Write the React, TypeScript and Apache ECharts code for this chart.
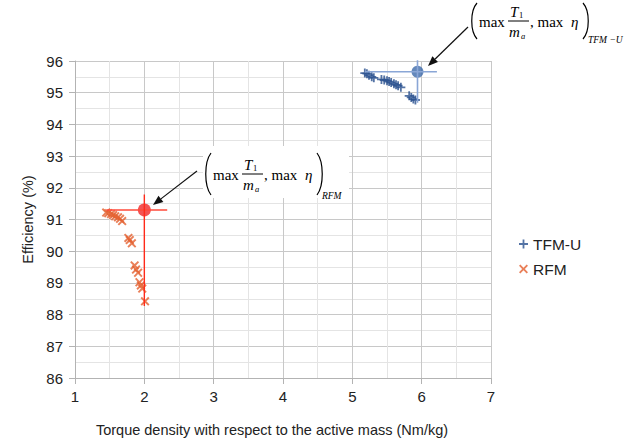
import React, { useEffect, useRef } from 'react';
import * as echarts from 'echarts';

// ---- data ----
const tfmX = [5.18, 5.21, 5.24, 5.28, 5.31, 5.42, 5.46, 5.5, 5.53, 5.56, 5.6, 5.63, 5.66, 5.7, 5.82, 5.85, 5.88, 5.91];
const tfmY = [95.62, 95.6, 95.55, 95.5, 95.47, 95.42, 95.4, 95.38, 95.35, 95.32, 95.28, 95.25, 95.22, 95.17, 94.9, 94.85, 94.8, 94.77];
const rfmX = [1.45, 1.48, 1.52, 1.55, 1.58, 1.62, 1.65, 1.68, 1.77, 1.79, 1.82, 1.86, 1.88, 1.91, 1.93, 1.95, 1.97, 2.01];
const rfmY = [91.22, 91.2, 91.17, 91.14, 91.1, 91.07, 91.02, 90.95, 90.42, 90.35, 90.25, 89.55, 89.42, 89.32, 89.02, 88.92, 88.82, 88.42];

const tfmMax = [5.94, 95.66];
const tfmHRange = [5.18, 6.22];
const tfmVRange = [96.06, 94.68];
const rfmMax = [2.0, 91.3];
const rfmHRange = [1.45, 2.33];
const rfmVRange = [91.79, 88.27];

const seriesNames = ['TFM-U', 'RFM'];
const xAxisName = 'Torque density with respect to the active mass (Nm/kg)';
const yAxisName = 'Efficiency (%)';

const PLUS = 'path://M4,0H6V4H10V6H6V10H4V6H0V4H4Z';
const CROSS = 'path://M1.5,0L5,3.5L8.5,0L10,1.5L6.5,5L10,8.5L8.5,10L5,6.5L1.5,10L0,8.5L3.5,5L0,1.5Z';

const SERIF = '"Liberation Serif", "DejaVu Serif", serif';
const SANS = '"Liberation Sans", Arial, sans-serif';

function txt(x: number, y: number, text: string, size: number, italic = false, align = 'left') {
  return {
    type: 'text',
    x,
    y,
    z: 100,
    style: {
      text,
      fontSize: size,
      fontFamily: SERIF,
      fontStyle: italic ? 'italic' : 'normal',
      fill: '#000',
      align,
      verticalAlign: 'middle',
    },
  };
}

function paren(x: number, top: number, bottom: number, dir: number) {
  const h = bottom - top;
  return {
    type: 'bezierCurve',
    z: 100,
    shape: {
      x1: x, y1: top,
      cpx1: x - dir * 7, cpy1: top + h * 0.22,
      cpx2: x - dir * 7, cpy2: bottom - h * 0.22,
      x2: x, y2: bottom,
    },
    style: { stroke: '#000', lineWidth: 1.2, fill: 'none' },
  };
}

function arrow(x1: number, y1: number, x2: number, y2: number) {
  const dx = x2 - x1, dy = y2 - y1;
  const len = Math.sqrt(dx * dx + dy * dy);
  const ux = dx / len, uy = dy / len;
  const px = -uy, py = ux;
  const bx = x2 - ux * 10, by = y2 - uy * 10;
  return [
    { type: 'line', z: 100, shape: { x1, y1, x2: bx, y2: by }, style: { stroke: '#111', lineWidth: 1.2 } },
    {
      type: 'polygon', z: 100,
      shape: { points: [[x2, y2], [bx + px * 4, by + py * 4], [bx - px * 4, by - py * 4]] },
      style: { fill: '#111' },
    },
  ];
}

function formula(ox: number, oy: number, sub: string, half: number) {
  // ox = left paren x, oy = centre line y
  return [
    paren(ox + 5, oy - half, oy + half, 1),
    txt(ox + 7, oy + 1, 'max', 15),
    txt(ox + 38, oy - 9, 'T', 15, true),
    txt(ox + 47, oy - 6, '1', 8.5),
    { type: 'line', z: 100, shape: { x1: ox + 36, y1: oy, x2: ox + 57, y2: oy }, style: { stroke: '#000', lineWidth: 1 } },
    txt(ox + 37, oy + 11, 'm', 15, true),
    txt(ox + 49, oy + 15, 'a', 8.5, true),
    txt(ox + 58, oy + 1, ', max', 15),
    txt(ox + 99, oy + 1, 'η', 15, true),
    paren(ox + 111, oy - half, oy + half, -1),
    txt(ox + 116, oy + half + 1, sub, 9.5, true),
  ];
}

const graphics: any[] = [
  { type: 'rect', z: 90, shape: { x: 203, y: 146, width: 146, height: 52 }, style: { fill: '#fff' } },
  ...formula(206, 174, 'RFM', 21),
  ...arrow(197, 171, 153, 205),
  ...formula(472, 21, 'TFM −U', 18),
  ...arrow(468, 27, 428, 66),
];

export default function App() {
  const ref = useRef<HTMLDivElement>(null);
  useEffect(() => {
    if (!ref.current) return;
    const chart = echarts.init(ref.current, null, { renderer: 'svg' });
    const axisCommon = {
      type: 'value',
      nameLocation: 'middle',
      axisLine: { show: true, lineStyle: { color: '#b3b3b3' } },
      axisTick: { show: true, length: 6, lineStyle: { color: '#b3b3b3' } },
      splitLine: { show: true, lineStyle: { color: '#c8c8c8' } },
      minorTick: { show: false, splitNumber: 2 },
      minorSplitLine: { show: true, lineStyle: { color: '#e4e4e4' } },
      axisLabel: { color: '#222', fontSize: 15, fontFamily: SANS },
      nameTextStyle: { color: '#222', fontSize: 14.5, fontFamily: SANS },
    };
    chart.setOption({
      animation: false,
      grid: { left: 75, right: 148, top: 61, bottom: 63, containLabel: false },
      xAxis: {
        ...axisCommon,
        min: 1, max: 7, interval: 1,
        name: xAxisName, nameGap: 44,
        nameTextStyle: { ...axisCommon.nameTextStyle, padding: [0, 22, 0, 0] },
        axisLine: { ...axisCommon.axisLine, onZero: false },
        axisLabel: { ...axisCommon.axisLabel, margin: 11 },
      },
      yAxis: {
        ...axisCommon,
        min: 86, max: 96, interval: 1,
        name: yAxisName, nameGap: 35,
        axisLabel: { ...axisCommon.axisLabel, margin: 12 },
      },
      legend: {
        data: seriesNames.map((n, i) => ({ name: n, icon: i === 0 ? PLUS : CROSS })),
        orient: 'vertical',
        left: 514, top: 231,
        itemWidth: 9, itemHeight: 9, itemGap: 9,
        textStyle: { fontSize: 15.5, fontFamily: SANS, color: '#222' },
      },
      graphic: graphics,
      series: [
        {
          type: 'line', symbol: 'none', silent: true,
          data: [[tfmHRange[0], tfmMax[1]], [tfmHRange[1], tfmMax[1]]],
          lineStyle: { color: '#8aa6d6', width: 1.6 },
        },
        {
          type: 'line', symbol: 'none', silent: true,
          data: [[tfmMax[0], tfmVRange[0]], [tfmMax[0], tfmVRange[1]]],
          lineStyle: { color: '#8aa6d6', width: 1.6 },
        },
        {
          type: 'line', symbol: 'none', silent: true,
          data: [[rfmHRange[0], rfmMax[1]], [rfmHRange[1], rfmMax[1]]],
          lineStyle: { color: '#ff4a3a', width: 1.4 },
        },
        {
          type: 'line', symbol: 'none', silent: true,
          data: [[rfmMax[0], rfmVRange[0]], [rfmMax[0], rfmVRange[1]]],
          lineStyle: { color: '#ff2a1a', width: 1.4 },
        },
        {
          name: seriesNames[0], type: 'scatter', symbol: PLUS, symbolSize: 9,
          data: tfmX.map((x, i) => [x, tfmY[i]]),
          itemStyle: { color: '#29508f' },
        },
        {
          name: seriesNames[1], type: 'scatter', symbol: CROSS, symbolSize: 9,
          data: rfmX.map((x, i) => [x, rfmY[i]]),
          itemStyle: { color: '#e4602f' },
        },
        {
          type: 'scatter', symbol: 'circle', symbolSize: 12,
          data: [tfmMax], itemStyle: { color: '#3d6aaa' },
        },
        {
          type: 'scatter', symbol: 'circle', symbolSize: 13,
          data: [rfmMax], itemStyle: { color: '#f02828' },
        },
      ],
    });
    return () => chart.dispose();
  }, []);
  return <div ref={ref} style={{ width: 639, height: 442, position: 'absolute', left: 0, top: 0 }} />;
}
